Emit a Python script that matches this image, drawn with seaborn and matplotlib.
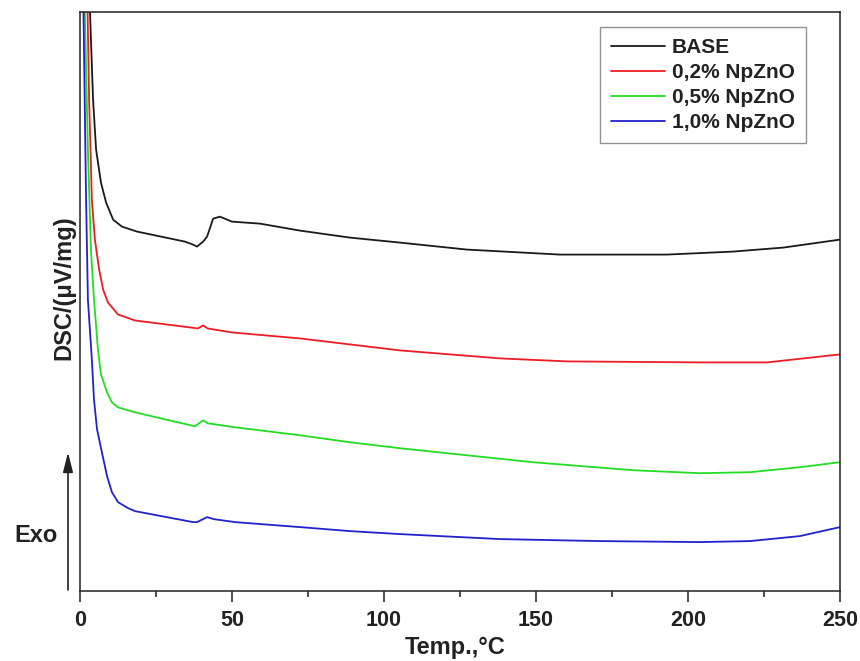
import numpy as np
import pandas as pd
import matplotlib
matplotlib.use("Agg")
import matplotlib.pyplot as plt
from matplotlib.ticker import MultipleLocator
import seaborn as sns

# ---- data (arbitrary DSC units, offset curves) ----
labels = ["BASE", "0,2% NpZnO", "0,5% NpZnO", "1,0% NpZnO"]
colors = ["#1a1a1a", "#ee1c25", "#22dd22", "#2222cc"]

base_t = [3.0, 3.3, 4.3, 5.3, 6.9, 8.6, 10.9, 13.8, 18.8, 34.5, 37.2, 38.5, 40.5,
          41.8, 43.8, 46.0, 50.0, 59.2, 72.4, 88.8, 105.3, 127.3, 157.9, 193.1,
          214.8, 231.3, 250.0]
base_y = [640, 579, 492, 442, 409, 389, 372, 365, 360, 350, 347, 345, 350,
          355, 373, 375, 370, 368, 361, 354, 349, 342, 337, 337,
          340, 344, 352]

r02_t = [2.3, 2.5, 3.0, 3.9, 4.9, 6.3, 7.6, 9.2, 12.5, 18.1, 38.8, 40.5, 42.0,
         50.0, 72.4, 88.8, 105.3, 138.2, 160.2, 203.9, 226.0, 250.0]
r02_y = [640, 579, 492, 392, 352, 322, 302, 289, 277, 271, 263, 266, 263,
         259, 253, 247, 241, 233, 230, 229, 229, 237]

r05_t = [1.4, 1.6, 2.6, 3.6, 4.6, 5.9, 6.9, 8.9, 10.5, 12.5, 15.8, 18.1, 37.8,
         40.5, 42.0, 51.0, 72.4, 88.8, 105.3, 149.0, 181.9, 203.9, 220.4, 236.8,
         250.0]
r05_y = [640, 579, 442, 342, 292, 242, 217, 199, 189, 184, 181, 179, 165,
         171, 168, 164, 156, 149, 143, 129, 121, 118, 119, 124,
         129]

r10_t = [1.0, 1.15, 2.0, 2.6, 3.9, 4.6, 5.6, 7.2, 8.9, 10.5, 12.5, 15.8, 18.1,
         37.2, 38.5, 41.8, 44.0, 51.0, 72.4, 88.8, 105.3, 138.2, 171.1, 203.9,
         220.4, 236.8, 250.0]
r10_y = [640, 579, 392, 292, 232, 192, 162, 139, 115, 99, 89, 83, 80,
         69, 69, 74, 72, 69, 64, 60, 57, 52, 50, 49,
         50, 55, 64]

x_ticks = [0, 50, 100, 150, 200, 250]

series = [(labels[0], base_t, base_y), (labels[1], r02_t, r02_y),
          (labels[2], r05_t, r05_y), (labels[3], r10_t, r10_y)]
df = pd.concat([pd.DataFrame({"Temp": t, "DSC": y, "Sample": name})
                for name, t, y in series], ignore_index=True)

# ---- style ----
sns.set_theme(style="white")
plt.rcParams["font.family"] = ["Liberation Sans", "DejaVu Sans"]
ink = "#222222"

fig = plt.figure(figsize=(8.6, 6.61), dpi=100)
ax = fig.add_axes([80 / 860, 1 - 591 / 661, 760 / 860, 579 / 661])

sns.lineplot(data=df, x="Temp", y="DSC", hue="Sample", hue_order=labels,
             palette=dict(zip(labels, colors)), linewidth=1.3, ax=ax,
             sort=False, estimator=None)

ax.set_xlim(0, 250)
ax.set_ylim(0, 580)
ax.set_xticks(x_ticks)
ax.xaxis.set_minor_locator(MultipleLocator(25))
ax.set_yticks([])
ax.tick_params(axis="x", which="major", direction="out", length=8, width=1.1,
               color=ink, labelsize=15.5, pad=6, bottom=True)
ax.tick_params(axis="x", which="minor", direction="out", length=4, width=1.1,
               color=ink, bottom=True)
for lab in ax.get_xticklabels():
    lab.set_fontweight("bold")
    lab.set_color(ink)

for s in ax.spines.values():
    s.set_color(ink)
    s.set_linewidth(1.1)

ax.set_xlabel("Temp.,°C", fontsize=17, fontweight="bold", color=ink, labelpad=0)
ax.xaxis.set_label_coords((455 - 80) / 760, -(636 - 591) / 579)
ax.set_ylabel("DSC/(μV/mg)", fontsize=17, fontweight="bold", color=ink)
ax.yaxis.set_label_coords(-(80 - 75) / 760, (591 - 288) / 579)

# Exo arrow and text
ax.annotate("", xy=(-12 / 3.04, 591 - 452), xytext=(-12 / 3.04, 1),
            xycoords="data", textcoords="data", annotation_clip=False,
            arrowprops=dict(arrowstyle="-|>,head_length=1.0,head_width=0.25",
                            color=ink, lw=1.2, mutation_scale=12,
                            shrinkA=0, shrinkB=0))
fig.text(36 / 860, 1 - 535 / 661, "Exo", fontsize=17, fontweight="bold",
         color=ink, ha="center", va="center")

leg = ax.legend(loc="upper right", fontsize=15, frameon=True,
                fancybox=False, edgecolor="#777777", handlelength=2.6,
                handletextpad=0.3, labelspacing=0.28, borderpad=0.55,
                borderaxespad=0.0)
leg.get_frame().set_linewidth(1.0)
for t in leg.get_texts():
    t.set_fontweight("bold")
    t.set_color(ink)
for h in leg.get_lines():
    h.set_linewidth(1.3)
leg.set_bbox_to_anchor(((806 - 80) / 760, (591 - 27) / 579), transform=ax.transAxes)

fig.savefig("out.png", dpi=100)
